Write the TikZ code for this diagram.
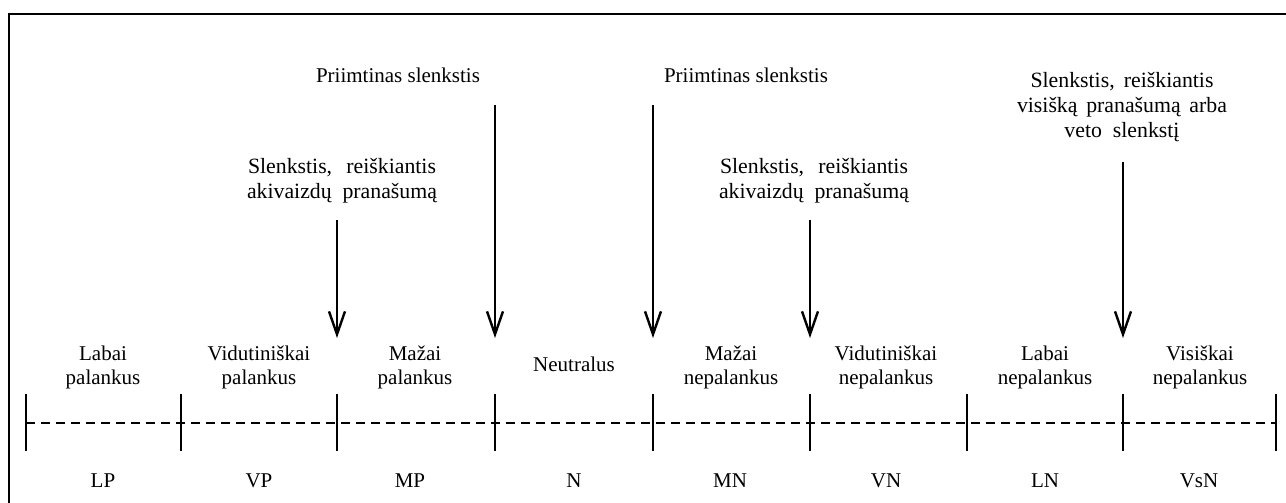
\documentclass[tikz,border=0pt]{standalone}
\usepackage{fontspec}
\setmainfont{Liberation Serif}
\usetikzlibrary{arrows.meta}
\begin{document}
\begin{tikzpicture}[x=0.5pt,y=-0.5pt,
  lbl/.style={font=\fontsize{10.5}{12}\selectfont, align=center, inner sep=0pt},
  thr/.style={font=\fontsize{10.9}{12.5}\selectfont, align=center, inner sep=0pt},
  abbr/.style={font=\fontsize{10.5}{12}\selectfont, anchor=base, inner sep=0pt},
  tickline/.style={line width=1pt},
  dashline/.style={line width=1pt, dash pattern=on 4.5pt off 3pt},
  arr/.style={line width=1.2pt, -{Straight Barb[length=11.5pt,width=8pt]}},
  framel/.style={line width=1.3pt}]
\useasboundingbox (0,0) rectangle (1286,503);
% frame (top and left edges)
\coordinate (fbl) at (9,503);
\coordinate (ftl) at (9,14);
\coordinate (ftr) at (1286,14);
\draw[framel] (fbl) -- (ftl) -- (ftr);
% scale ticks
\foreach \x [count=\i] in {26,181,337,495,653,810,967,1123,1276} {
  \coordinate (t\i a) at (\x,394);
  \coordinate (t\i b) at (\x,451);
  \coordinate (t\i m) at (\x,423);
  \draw[tickline] (t\i a) -- (t\i b);
}
\draw[dashline] (t1m) -- (t9m);
% category labels
\node[lbl] (c1) at (103,367) {Labai\\palankus};
\node[lbl] (c2) at (259,367) {Vidutiniškai\\palankus};
\node[lbl] (c3) at (415,367) {Mažai\\palankus};
\node[lbl] (c4) at (574,364) {Neutralus};
\node[lbl] (c5) at (731,367) {Mažai\\nepalankus};
\node[lbl] (c6) at (886,367) {Vidutiniškai\\nepalankus};
\node[lbl] (c7) at (1045,367) {Labai\\nepalankus};
\node[lbl] (c8) at (1200,367) {Visiškai\\nepalankus};
% abbreviations
\node[abbr] (a1) at (103,487) {LP};
\node[abbr] (a2) at (259,487) {VP};
\node[abbr] (a3) at (410,487) {MP};
\node[abbr] (a4) at (574,487) {N};
\node[abbr] (a5) at (730,487) {MN};
\node[abbr] (a6) at (886,487) {VN};
\node[abbr] (a7) at (1045,487) {LN};
\node[abbr] (a8) at (1199,487) {VsN};
% threshold texts
\node[abbr] (p1) at (398,83) {Priimtinas slenkstis};
\node[abbr] (p2) at (746,83) {Priimtinas slenkstis};
\node[thr] (s1) at (342,181) {\makebox[94pt][s]{Slenkstis, reiškiantis}\\\makebox[95pt][s]{akivaizdų pranašumą}};
\node[thr] (s2) at (814,181) {\makebox[94pt][s]{Slenkstis, reiškiantis}\\\makebox[95pt][s]{akivaizdų pranašumą}};
\node[thr] (s3) at (1122,107) {\makebox[91.5pt][s]{Slenkstis, reiškiantis}\\\makebox[105pt][s]{visišką pranašumą arba}\\veto\ \ slenkstį};
% arrows
\coordinate (r1s) at (337,220); \coordinate (r1e) at (337,338);
\coordinate (r2s) at (495,105); \coordinate (r2e) at (495,338);
\coordinate (r3s) at (653,105); \coordinate (r3e) at (653,338);
\coordinate (r4s) at (810,220); \coordinate (r4e) at (810,338);
\coordinate (r5s) at (1123,162); \coordinate (r5e) at (1123,338);
\foreach \i in {1,...,5} { \draw[arr] (r\i s) -- (r\i e); }
\end{tikzpicture}
\end{document}
